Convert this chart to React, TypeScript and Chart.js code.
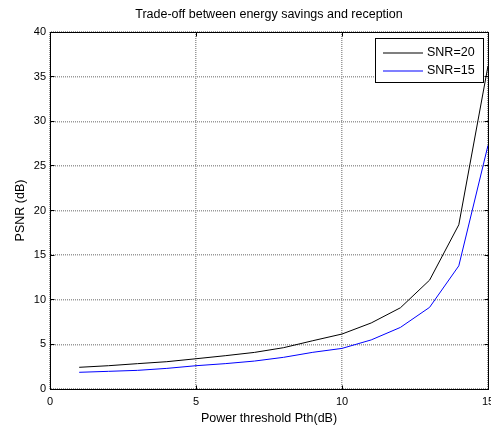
import React, { useEffect, useRef } from 'react';
import { Chart, registerables } from 'chart.js';

Chart.register(...registerables);

// ---- data ----
const powerThreshold = [1, 2, 3, 4, 5, 6, 7, 8, 9, 10, 11, 12, 13, 14, 15];
const psnrSnr20 = [2.43, 2.61, 2.84, 3.06, 3.39, 3.73, 4.1, 4.63, 5.41, 6.16, 7.4, 9.1, 12.2, 18.4, 36.2];
const psnrSnr15 = [1.87, 1.98, 2.09, 2.31, 2.61, 2.84, 3.13, 3.55, 4.11, 4.55, 5.5, 6.9, 9.15, 13.8, 27.3];
const seriesLabels = ['SNR=20', 'SNR=15'];
const seriesColors = ['#000000', '#0000ff'];
const xRange = [0, 15];
const yRange = [0, 40];
const xStep = 5;
const yStep = 5;
const chartTitle = 'Trade-off between energy savings and reception';
const xAxisTitle = 'Power threshold Pth(dB)';
const yAxisTitle = 'PSNR (dB)';

const FONT = "'Liberation Sans', Arial, Helvetica, sans-serif";

const align = (p: number) => Math.round(p - 0.5) + 0.5;

const framePlugin = {
  id: 'matlabFrame',
  afterDatasetsDraw(chart: any) {
    const { ctx, chartArea: a, scales } = chart;
    const L = align(a.left), R = align(a.right), T = align(a.top), B = align(a.bottom);
    ctx.save();
    ctx.strokeStyle = '#000';
    ctx.lineWidth = 1;
    ctx.setLineDash([]);
    ctx.strokeRect(L, T, R - L, B - T);
    const tl = 4;
    ctx.beginPath();
    scales.x.ticks.forEach((t: any) => {
      const px = align(scales.x.getPixelForValue(t.value));
      ctx.moveTo(px, B); ctx.lineTo(px, B - tl);
      ctx.moveTo(px, T); ctx.lineTo(px, T + tl);
    });
    scales.y.ticks.forEach((t: any) => {
      const py = align(scales.y.getPixelForValue(t.value));
      ctx.moveTo(L, py); ctx.lineTo(L + tl, py);
      ctx.moveTo(R, py); ctx.lineTo(R - tl, py);
    });
    ctx.stroke();
    ctx.restore();
  },
};

const legendPlugin = {
  id: 'matlabLegend',
  afterDraw(chart: any) {
    const { ctx, chartArea: a } = chart;
    const w = 108, h = 44;
    const right = Math.round(a.right) - 5;
    const left = right - w;
    const top = Math.round(a.top) + 6;
    ctx.save();
    ctx.setLineDash([]);
    ctx.fillStyle = '#fff';
    ctx.fillRect(left, top, w, h);
    ctx.strokeStyle = '#000';
    ctx.lineWidth = 1;
    ctx.strokeRect(left + 0.5, top + 0.5, w, h);
    ctx.font = `12.5px ${FONT}`;
    ctx.textBaseline = 'middle';
    ctx.textAlign = 'left';
    chart.data.datasets.forEach((ds: any, i: number) => {
      const y = top + 14.5 + i * 18.5;
      ctx.beginPath();
      ctx.strokeStyle = seriesColors[i % seriesColors.length];
      ctx.lineWidth = 1.2;
      ctx.moveTo(left + 8, Math.round(y));
      ctx.lineTo(left + 48, Math.round(y));
      ctx.stroke();
      ctx.fillStyle = '#000';
      ctx.fillText(ds.label, left + 52, y);
    });
    ctx.restore();
  },
};

export default function App() {
  const canvasRef = useRef<HTMLCanvasElement | null>(null);

  useEffect(() => {
    const canvas = canvasRef.current;
    if (!canvas) return;
    const seriesValues = [psnrSnr20, psnrSnr15];
    const chart = new Chart(canvas, {
      type: 'line',
      data: {
        datasets: seriesValues.map((vals, i) => ({
          label: seriesLabels[i],
          data: powerThreshold.map((x, j) => ({ x, y: vals[j] })),
          borderColor: seriesColors[i],
          backgroundColor: seriesColors[i],
          borderWidth: 1,
          pointRadius: 0,
          tension: 0,
          fill: false,
        })),
      },
      options: {
        responsive: false,
        animation: false,
        devicePixelRatio: 1,
        layout: { padding: { left: 0, right: 10, top: 0, bottom: 0 } },
        plugins: {
          legend: { display: false },
          tooltip: { enabled: false },
          title: {
            display: true,
            text: chartTitle,
            fullSize: false,
            color: '#000',
            font: { family: FONT, size: 12.5, weight: 'normal', lineHeight: 1.2 },
            padding: { top: 7.5, bottom: 9.5 },
          },
        },
        scales: {
          x: {
            type: 'linear',
            min: xRange[0],
            max: xRange[1],
            afterFit: (s: any) => { s.height = 39; s.paddingLeft = 0; s.paddingRight = 0; },
            ticks: { stepSize: xStep, color: '#000', font: { family: FONT, size: 11 }, padding: 6, maxRotation: 0 },
            grid: { color: '#999', drawTicks: false, lineWidth: 1.5 },
            border: { display: true, color: '#000', width: 1, dash: [1, 1] },
            title: {
              display: true,
              text: xAxisTitle,
              color: '#000',
              font: { family: FONT, size: 12.5, lineHeight: 1.2 },
              padding: { top: 0, bottom: 1.5 },
            },
          },
          y: {
            type: 'linear',
            min: yRange[0],
            max: yRange[1],
            afterFit: (s: any) => { s.width = 50; },
            ticks: { stepSize: yStep, color: '#000', font: { family: FONT, size: 11 }, padding: 4 },
            grid: { color: '#999', drawTicks: false, lineWidth: 1.5 },
            border: { display: true, color: '#000', width: 1, dash: [1, 1] },
            title: {
              display: true,
              text: yAxisTitle,
              color: '#000',
              font: { family: FONT, size: 12.5, lineHeight: 1.2 },
              padding: { top: 13, bottom: 0 },
            },
          },
        },
      },
      plugins: [framePlugin, legendPlugin],
    });
    return () => chart.destroy();
  }, []);

  return (
    <div style={{ position: 'fixed', left: 0, top: 0, width: 491, height: 428, overflow: 'hidden', background: '#fff' }}>
      <canvas ref={canvasRef} width={498} height={428} style={{ display: 'block', width: 498, height: 428 }} />
    </div>
  );
}
